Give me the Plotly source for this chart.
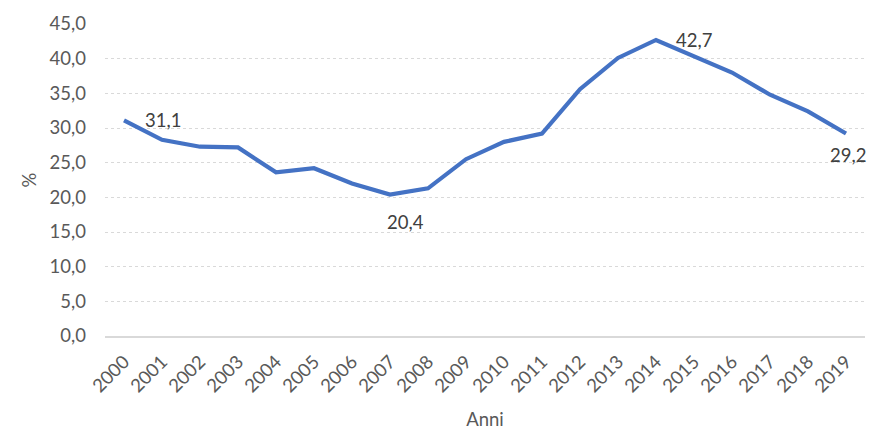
import plotly.graph_objects as go

years = [str(y) for y in range(2000, 2020)]
values = [31.1, 28.3, 27.3, 27.2, 23.6, 24.2, 22.0, 20.4, 21.3, 25.5,
          28.0, 29.2, 35.6, 40.1, 42.7, 40.4, 38.0, 34.8, 32.4, 29.2]
labelled_years = ["2000", "2007", "2014", "2019"]

# label placement styles (anchor, pixel shifts)
label_style = {
    "2000": dict(xanchor="left", yanchor="middle", xshift=19, yshift=0),
    "2007": dict(xanchor="center", yanchor="middle", xshift=15, yshift=-27),
    "2014": dict(xanchor="left", yanchor="middle", xshift=18, yshift=0),
    "2019": dict(xanchor="center", yanchor="middle", xshift=2, yshift=-21),
}

font = "Lato, 'Open Sans', sans-serif"
tick_color = "#595959"

fig = go.Figure()
fig.add_trace(go.Scatter(
    x=years, y=values, mode="lines",
    line=dict(color="#4472C4", width=4.2),
    hoverinfo="x+y",
))

for y in labelled_years:
    i = years.index(y)
    v = values[i]
    fig.add_annotation(
        x=i, y=v, xref="x", yref="y",
        text=f"{v:.1f}".replace(".", ","), showarrow=False,
        font=dict(family=font, size=18.5, color="#404040"),
        **label_style[y],
    )

fig.update_layout(
    width=870, height=430,
    margin=dict(l=105, r=5, t=24, b=94),
    paper_bgcolor="white", plot_bgcolor="white",
    separators=",.",
    showlegend=False,
    font=dict(family=font, size=18.5, color=tick_color),
)
fig.update_xaxes(
    type="category", range=[-0.5, 19.5], automargin=False,
    tickangle=-45, showgrid=False,
    showline=True, linecolor="#d9d9d9", linewidth=1.5,
    ticks="", ticklabelstandoff=6, tickfont=dict(size=18.5, color=tick_color),
    title=dict(text="Anni", font=dict(size=18.5, color=tick_color), standoff=26),
)
fig.update_yaxes(
    range=[0, 45], dtick=5, tickformat=".1f", automargin=False,
    showgrid=True, gridcolor="#d9d9d9", griddash="dot", gridwidth=1,
    zeroline=False, showline=False, ticks="", ticklabelstandoff=18,
    tickfont=dict(size=18.5, color=tick_color),
    title=dict(text="%", font=dict(size=18.5, color=tick_color), standoff=8),
)

fig.write_html(
    "out.html",
    config={"displayModeBar": False},
    post_script="document.body.style.margin='0';document.body.style.overflow='hidden';",
)
